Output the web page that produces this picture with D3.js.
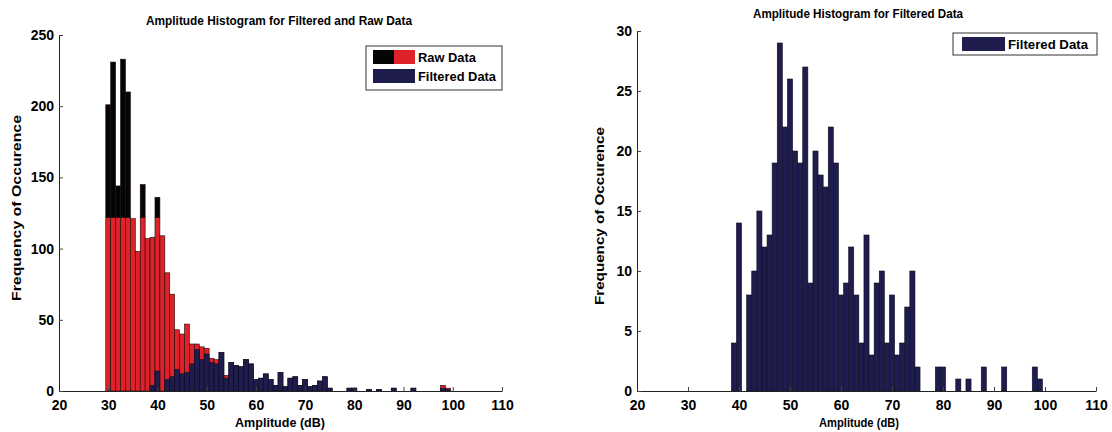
<!DOCTYPE html>
<html>
<head>
<meta charset="utf-8">
<script src="https://cdn.jsdelivr.net/npm/d3@7"></script>
<style>
  html, body { margin: 0; padding: 0; background: #fff; }
  svg { display: block; }
  text { font-family: "Liberation Sans", Arial, sans-serif; font-weight: bold; fill: #000; }
</style>
</head>
<body>
<svg id="chart" width="1112" height="432"></svg>
<script>
// ---- data (1 dB bins, centred on integer dB values) ----
const binCenters = [30,31,32,33,34,35,36,37,38,39,40,41,42,43,44,45,46,47,48,49,
  50,51,52,53,54,55,56,57,58,59,60,61,62,63,64,65,66,67,68,69,
  70,71,72,73,74,75,76,77,78,79,80,81,82,83,84,85,86,87,88,89,
  90,91,92,93,94,95,96,97,98,99,100];
const rawCounts = [201,231,144,233,210,121,98,145,107,108,136,109,83,68,43,40,47,33,33,31,
  30,23,22,27,11,20,18,17,22,19,8,9,12,8,4,13,3,9,10,4,
  8,3,4,7,10,2,0,0,0,2,2,0,0,1,0,1,0,0,2,0,
  0,0,2,0,0,0,0,0,4,2,0];
const filteredCounts = [0,0,0,0,0,0,0,0,0,4,14,0,8,10,15,12,13,19,29,22,
  26,20,19,27,9,20,18,17,22,19,8,9,12,8,4,13,3,9,10,4,
  8,3,4,7,10,2,0,0,0,2,2,0,0,1,0,1,0,0,2,0,
  0,0,2,0,0,0,0,0,2,1,0];
const xTickValues = [20,30,40,50,60,70,80,90,100,110];
const leftYTicks = [0,50,100,150,200,250];
const rightYTicks = [0,5,10,15,20,25,30];
const leftTitle = "Amplitude Histogram for Filtered and Raw Data";
const rightTitle = "Amplitude Histogram for Filtered Data";
const xLabel = "Amplitude (dB)";
const yLabel = "Frequency of Occurence";
const legendLeft = ["Raw Data", "Filtered Data"];
const legendRight = ["Filtered Data"];

// ---- styles ----
const RED = "#df2229", BLACK = "#050505", NAVY = "#1f1d4e", EDGE = "#1a0a0a";
const RAW_COLOR_SPLIT = 122; // colour-map change: black above this count
const FONT = "Liberation Sans, Arial, sans-serif";

const svg = d3.select("#chart");

function drawAxes(g, x, y, yTicks, yPad) {
  const ax = g.append("g").attr("transform", `translate(0,${y.range()[0]})`)
    .call(d3.axisBottom(x).tickValues(xTickValues).tickSize(-4).tickSizeOuter(0).tickPadding(9));
  const ay = g.append("g").attr("transform", `translate(${x.range()[0]},0)`)
    .call(d3.axisLeft(y).tickValues(yTicks).tickSize(-4).tickSizeOuter(0).tickPadding(yPad));
  [ax, ay].forEach(a => {
    a.selectAll("path.domain").attr("stroke", "#222").attr("stroke-width", 1);
    a.selectAll(".tick line").attr("stroke", "#444");
    a.selectAll("text").attr("font-size", 14).attr("font-family", FONT)
      .attr("font-weight", "bold").attr("fill", "#000");
  });
}

function barX(x, c) { return x(c - 0.5); }
function barW(x, c) { return x(c + 0.5) - x(c - 0.5); }

// ---------------- Left chart ----------------
{
  const x = d3.scaleLinear().domain([20, 110]).range([59, 502]);
  const y = d3.scaleLinear().domain([0, 250]).range([391, 35]);
  const g = svg.append("g");

  const raw = binCenters.map((c, i) => ({ c, v: rawCounts[i] })).filter(d => d.v > 0);
  const filt = binCenters.map((c, i) => ({ c, v: filteredCounts[i] })).filter(d => d.v > 0);

  g.selectAll("rect.rawRed").data(raw).join("rect").attr("class", "rawRed")
    .attr("x", d => barX(x, d.c)).attr("width", d => barW(x, d.c))
    .attr("y", d => y(Math.min(d.v, RAW_COLOR_SPLIT)))
    .attr("height", d => y(0) - y(Math.min(d.v, RAW_COLOR_SPLIT)))
    .attr("fill", RED).attr("stroke", EDGE).attr("stroke-width", 0.6);
  g.selectAll("rect.rawBlack").data(raw.filter(d => d.v > RAW_COLOR_SPLIT)).join("rect").attr("class", "rawBlack")
    .attr("x", d => barX(x, d.c)).attr("width", d => barW(x, d.c))
    .attr("y", d => y(d.v)).attr("height", d => y(RAW_COLOR_SPLIT) - y(d.v))
    .attr("fill", BLACK).attr("stroke", EDGE).attr("stroke-width", 0.6);
  g.selectAll("rect.filt").data(filt).join("rect").attr("class", "filt")
    .attr("x", d => barX(x, d.c)).attr("width", d => barW(x, d.c))
    .attr("y", d => y(d.v)).attr("height", d => y(0) - y(d.v))
    .attr("fill", NAVY).attr("stroke", "#0c0b22").attr("stroke-width", 0.6);

  drawAxes(g, x, y, leftYTicks, 5);

  g.append("text").attr("x", 279).attr("y", 25).attr("text-anchor", "middle")
    .attr("font-size", 13).attr("textLength", 266).attr("lengthAdjust", "spacingAndGlyphs").text(leftTitle);
  g.append("text").attr("x", 280).attr("y", 427).attr("text-anchor", "middle")
    .attr("font-size", 13).attr("textLength", 90).attr("lengthAdjust", "spacingAndGlyphs").text(xLabel);
  g.append("text").attr("transform", "translate(21,208) rotate(-90)").attr("text-anchor", "middle")
    .attr("font-size", 13).attr("textLength", 186).attr("lengthAdjust", "spacingAndGlyphs").text(yLabel);

  // legend
  const lg = g.append("g");
  lg.append("rect").attr("x", 366).attr("y", 46).attr("width", 136).attr("height", 44)
    .attr("fill", "#fff").attr("stroke", "#333").attr("stroke-width", 1);
  lg.append("rect").attr("x", 373).attr("y", 50).attr("width", 21).attr("height", 14).attr("fill", BLACK);
  lg.append("rect").attr("x", 394).attr("y", 50).attr("width", 21).attr("height", 14).attr("fill", RED);
  lg.append("rect").attr("x", 373).attr("y", 69).attr("width", 42).attr("height", 14).attr("fill", NAVY);
  lg.append("text").attr("x", 418).attr("y", 62).attr("font-size", 13)
    .attr("textLength", 58).attr("lengthAdjust", "spacingAndGlyphs").text(legendLeft[0]);
  lg.append("text").attr("x", 418).attr("y", 81).attr("font-size", 13)
    .attr("textLength", 78).attr("lengthAdjust", "spacingAndGlyphs").text(legendLeft[1]);
}

// ---------------- Right chart ----------------
{
  const x = d3.scaleLinear().domain([20, 110]).range([637, 1096]);
  const y = d3.scaleLinear().domain([0, 30]).range([391, 31]);
  const g = svg.append("g");

  const filt = binCenters.map((c, i) => ({ c, v: filteredCounts[i] })).filter(d => d.v > 0);
  g.selectAll("rect.filt").data(filt).join("rect").attr("class", "filt")
    .attr("x", d => barX(x, d.c)).attr("width", d => barW(x, d.c))
    .attr("y", d => y(d.v)).attr("height", d => y(0) - y(d.v))
    .attr("fill", NAVY).attr("stroke", "#0c0b22").attr("stroke-width", 0.6);

  drawAxes(g, x, y, rightYTicks, 5);

  g.append("text").attr("x", 858).attr("y", 18).attr("text-anchor", "middle")
    .attr("font-size", 13).attr("textLength", 210).attr("lengthAdjust", "spacingAndGlyphs").text(rightTitle);
  g.append("text").attr("x", 859).attr("y", 427).attr("text-anchor", "middle")
    .attr("font-size", 13).attr("textLength", 80).attr("lengthAdjust", "spacingAndGlyphs").text(xLabel);
  g.append("text").attr("transform", "translate(604,216) rotate(-90)").attr("text-anchor", "middle")
    .attr("font-size", 13).attr("textLength", 178).attr("lengthAdjust", "spacingAndGlyphs").text(yLabel);

  const lg = g.append("g");
  lg.append("rect").attr("x", 953).attr("y", 33).attr("width", 144).attr("height", 22)
    .attr("fill", "#fff").attr("stroke", "#333").attr("stroke-width", 1);
  lg.append("rect").attr("x", 962).attr("y", 37).attr("width", 43).attr("height", 14).attr("fill", NAVY);
  lg.append("text").attr("x", 1008).attr("y", 49).attr("font-size", 13)
    .attr("textLength", 80).attr("lengthAdjust", "spacingAndGlyphs").text(legendRight[0]);
}
</script>
</body>
</html>
